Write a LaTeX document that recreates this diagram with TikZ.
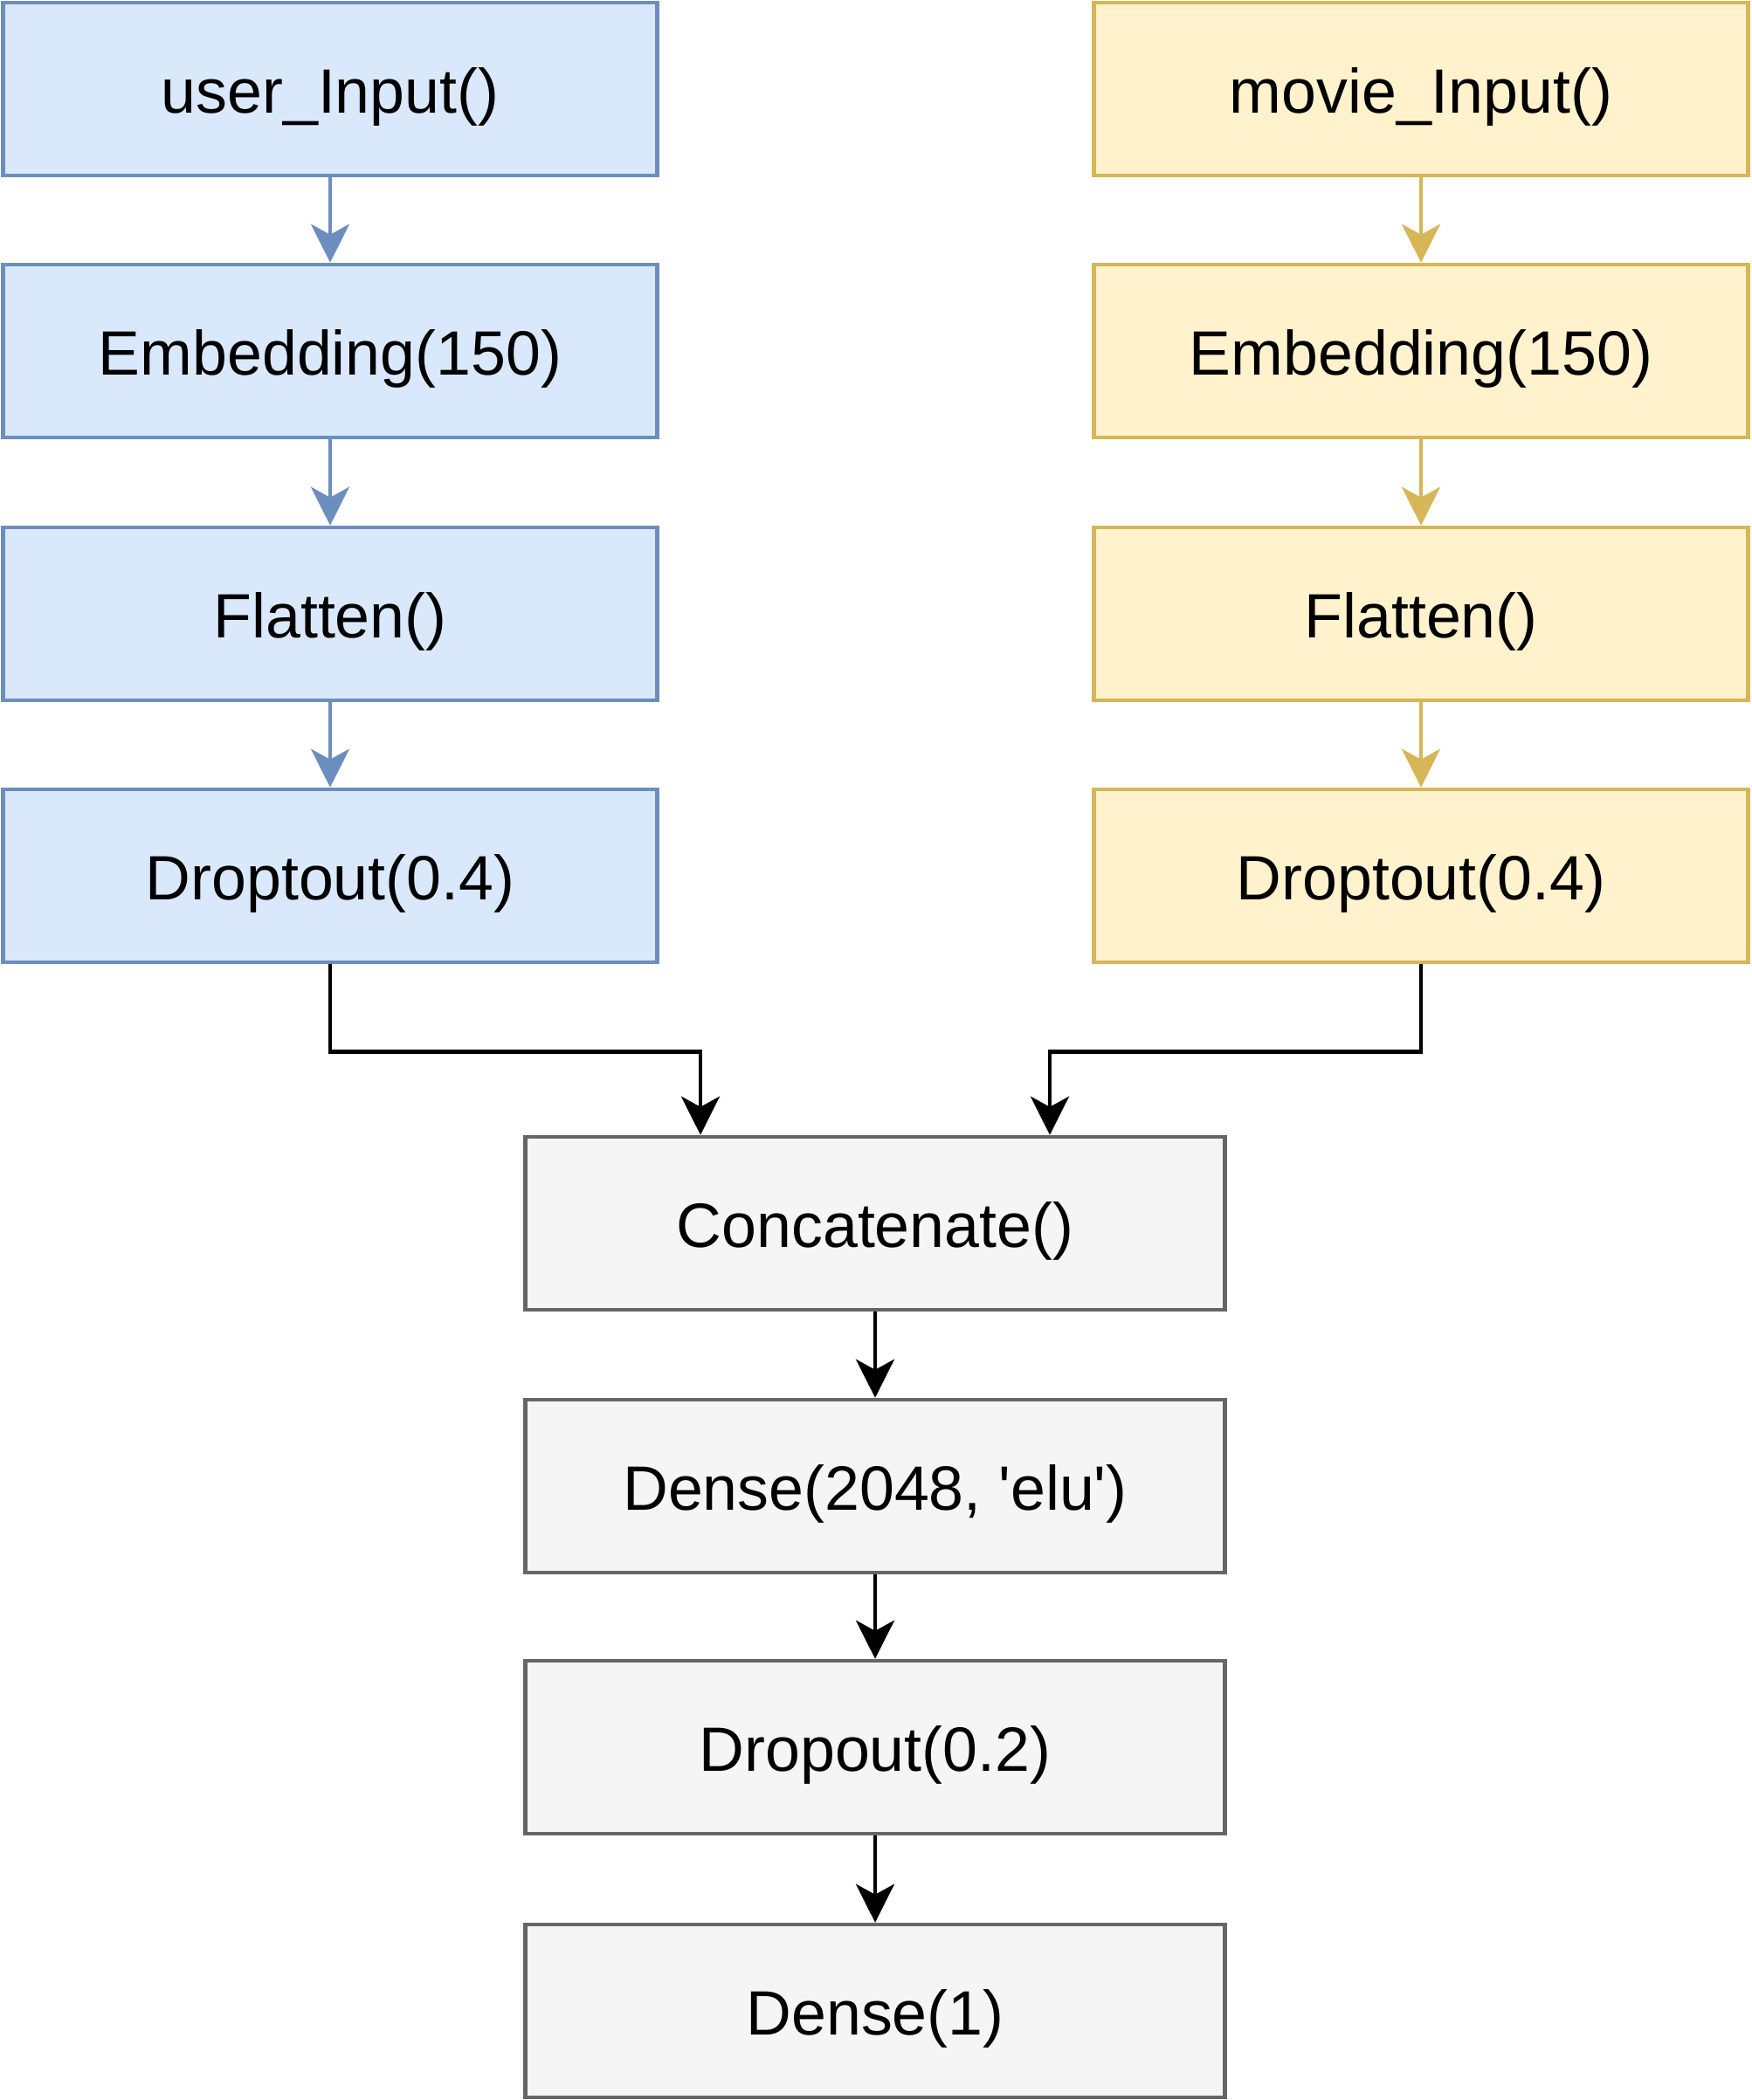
\documentclass[tikz,border=0pt]{standalone}
\usepackage{fontspec}
\setmainfont{Liberation Sans}[Ligatures=TeXOff]
\usetikzlibrary{arrows.meta}

\definecolor{userfill}{HTML}{DAE8FC}
\definecolor{userline}{HTML}{6C8EBF}
\definecolor{moviefill}{HTML}{FFF2CC}
\definecolor{movieline}{HTML}{D6B656}
\definecolor{mergefill}{HTML}{F5F5F5}
\definecolor{mergeline}{HTML}{666666}

\begin{document}
\begin{tikzpicture}[
    font=\fontsize{20.4}{24}\selectfont,
    layer/.style={draw, rectangle, line width=1.3pt, minimum height=1.98cm, inner sep=0pt,
        text height=20pt, text depth=4.2pt},
    userlayer/.style={layer, fill=userfill, draw=userline, minimum width=7.49cm},
    movielayer/.style={layer, fill=moviefill, draw=movieline, minimum width=7.49cm},
    mergelayer/.style={layer, fill=mergefill, draw=mergeline, minimum width=8.01cm},
    flow/.style={line width=1.3pt, -{Stealth[length=0.44cm, width=0.44cm, inset=0.12cm]}}
]
    \useasboundingbox (0,0) rectangle (20.05,-24.05);
    % user branch
    \node[userlayer] (userin) at (3.78,-1.02) {user\_Input()};
    \node[userlayer] (userembed) at (3.78,-4.02) {Embedding(150)};
    \node[userlayer] (userflat) at (3.78,-7.03) {Flatten()};
    \node[userlayer] (userdrop) at (3.78,-10.03) {Droptout(0.4)};

    % movie branch
    \node[movielayer] (moviein) at (16.27,-1.02) {movie\_Input()};
    \node[movielayer] (movieembed) at (16.27,-4.02) {Embedding(150)};
    \node[movielayer] (movieflat) at (16.27,-7.03) {Flatten()};
    \node[movielayer] (moviedrop) at (16.27,-10.03) {Droptout(0.4)};

    % merged part
    \node[mergelayer] (concat) at (10.02,-14.01) {Concatenate()};
    \node[mergelayer] (dense) at (10.02,-17.02) {Dense(2048, 'elu')};
    \node[mergelayer] (drop) at (10.02,-20.01) {Dropout(0.2)};
    \node[mergelayer] (out) at (10.02,-23.03) {Dense(1)};

    \draw[flow, userline] (userin) -- (userembed);
    \draw[flow, userline] (userembed) -- (userflat);
    \draw[flow, userline] (userflat) -- (userdrop);

    \draw[flow, movieline] (moviein) -- (movieembed);
    \draw[flow, movieline] (movieembed) -- (movieflat);
    \draw[flow, movieline] (movieflat) -- (moviedrop);

    \draw[flow] (userdrop.south) -- ++(0,-1) -| ([xshift=-2cm]concat.north);
    \draw[flow] (moviedrop.south) -- ++(0,-1) -| ([xshift=2cm]concat.north);

    \draw[flow] (concat) -- (dense);
    \draw[flow] (dense) -- (drop);
    \draw[flow] (drop) -- (out);
\end{tikzpicture}
\end{document}
